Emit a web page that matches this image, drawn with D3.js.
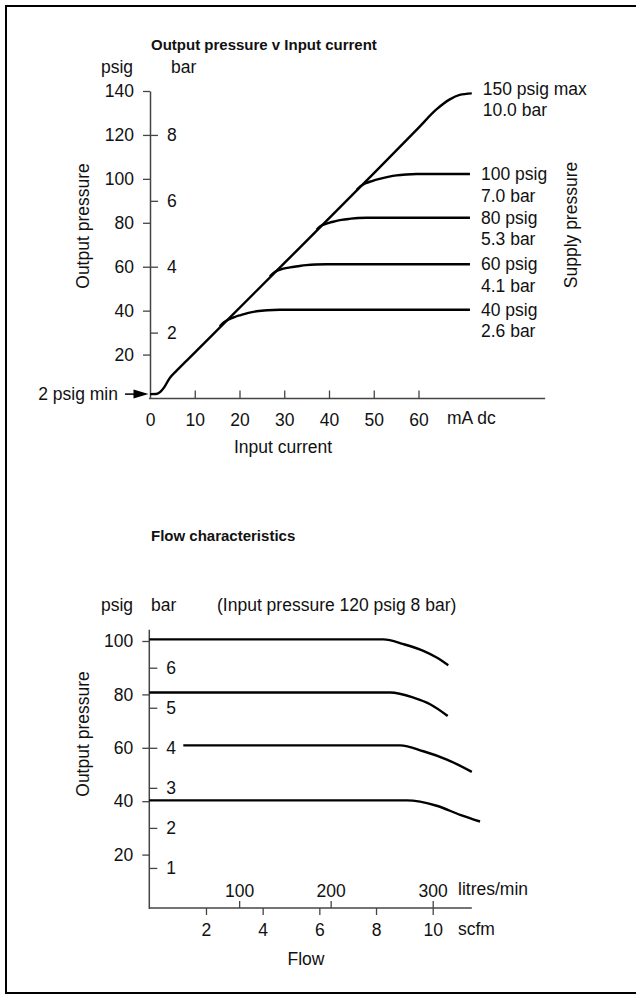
<!DOCTYPE html>
<html>
<head>
<meta charset="utf-8">
<script src="https://cdn.jsdelivr.net/npm/d3@7"></script>
<style>
  body { margin: 0; background: #fff; }
  svg text { font-family: "Liberation Sans", Arial, Helvetica, sans-serif; font-size: 17.5px; fill: #111; }
  svg text.title { font-size: 15px; font-weight: bold; }
</style>
</head>
<body>
<div id="chart"></div>
<script>
// ---- Output pressure v Input current ----
const psigTicksTop = [20, 40, 60, 80, 100, 120, 140]
const barTicksTop = [2, 4, 6, 8]
const mATicks = [0, 10, 20, 30, 40, 50, 60]
const psigPerBar = 15

// [mA, psig]
const mainCurve = [[0, 2], [1.4, 2.05], [2.3, 3.0], [3.2, 5.2], [4.4, 9.3], [6, 12.8], [10, 20.9], [30, 61.6], [50, 102.5], [60, 123.2], [64, 131.6], [67, 136.2], [69.2, 138.2], [71.9, 138.9]]
const supplyCurves = [
  [[46.2, 95.0], [47.0, 96.6], [48.2, 98.0], [49.6, 99.0], [51.3, 100.0], [53.2, 100.9], [55.1, 101.6], [57.3, 102.0], [59.6, 102.2], [71.5, 102.2]],
  [[37.25, 76.8], [38.0, 78.3], [39.0, 79.3], [40.0, 80.0], [41.2, 80.6], [42.8, 81.3], [44.6, 81.8], [46.5, 82.2], [48.4, 82.3], [71.5, 82.3]],
  [[26.8, 55.6], [27.6, 57.2], [28.6, 58.3], [29.8, 59.1], [31.3, 59.7], [33, 60.2], [34.9, 60.7], [37, 61.0], [39.4, 61.1], [71.5, 61.1]],
  [[15.6, 32.9], [16.4, 34.5], [17.6, 36.0], [18.9, 37.1], [20.3, 38.0], [22.0, 39.0], [23.8, 39.7], [26.2, 40.2], [29, 40.4], [71.5, 40.4]]
]
const supplyPsigLabels = ["150 psig max", "100 psig", "80 psig", "60 psig", "40 psig"]
const supplyBarLabels = ["10.0 bar", "7.0 bar", "5.3 bar", "4.1 bar", "2.6 bar"]

// ---- Flow characteristics ----
const psigTicksBot = [20, 40, 60, 80, 100]
const barTicksBot = [1, 2, 3, 4, 5, 6]
const scfmTicks = [2, 4, 6, 8, 10]
const litreTicks = [100, 200, 300]
const litreAtScfm = [3.17, 6.4, 10]   // where the litres/min ticks sit on the scfm scale

// [scfm, psig]
const flowCurves = [
  [[0, 100.6], [8.26, 100.6], [8.97, 98.8], [9.67, 96.3], [10.14, 93.8], [10.55, 90.9]],
  [[0, 80.7], [8.5, 80.7], [9.32, 78.8], [9.91, 76.3], [10.53, 71.9]],
  [[1.2, 60.9], [8.85, 60.9], [9.67, 58.7], [10.5, 55.6], [11.38, 51.0]],
  [[0, 40.3], [9.08, 40.3], [10.14, 38.3], [10.97, 34.9], [11.67, 32.4]]
]

const width = 636, height = 997
const axisColor = "#444"

const svg = d3.select("#chart").append("svg")
  .attr("width", width)
  .attr("height", height)

// frame
svg.append("rect")
  .attr("x", 6).attr("y", 6)
  .attr("width", 640).attr("height", 987)
  .attr("fill", "none")
  .attr("stroke", "#000")
  .attr("stroke-width", 2)

// ================= top chart =================
const xTop = d3.scaleLinear().domain([0, 60]).range([150, 418.5])
const yTop = d3.scaleLinear().domain([0, 140]).range([398.5, 91])
const barTop = d3.scaleLinear().domain([0, 140 / psigPerBar]).range([398.5, 91])

const topChart = svg.append("g")

topChart.append("text").attr("class", "title")
  .attr("x", 151).attr("y", 50)
  .text("Output pressure v Input current")

topChart.append("text").attr("x", 101).attr("y", 73).text("psig")
topChart.append("text").attr("x", 171).attr("y", 73).text("bar")

const yAxisTop = topChart.append("g")
  .attr("transform", `translate(${xTop(0)},0)`)
  .style("color", axisColor)
  .call(d3.axisLeft(yTop).tickValues(psigTicksTop).tickSize(7).tickSizeOuter(0).tickPadding(9))
yAxisTop.select(".domain").attr("stroke-width", 1.5)
yAxisTop.selectAll(".tick line").attr("stroke-width", 1.3)

const barAxisTop = topChart.append("g")
  .attr("transform", `translate(${xTop(0)},0)`)
  .style("color", axisColor)
  .call(d3.axisRight(barTop).tickValues(barTicksTop).tickFormat(d3.format("d")).tickSize(8).tickPadding(9))
barAxisTop.select(".domain").remove()
barAxisTop.selectAll(".tick line").attr("stroke-width", 1.3)

const xAxisTop = topChart.append("g")
  .attr("transform", `translate(0,${yTop(0)})`)
  .style("color", axisColor)
  .call(d3.axisBottom(xTop).tickValues(mATicks).tickSize(-8).tickPadding(15))
xAxisTop.select(".domain").remove()
xAxisTop.selectAll(".tick line").attr("stroke-width", 1.3)
xAxisTop.selectAll(".tick").filter(d => d === 0).select("line").remove()

topChart.append("line")
  .attr("x1", xTop(0) - 1).attr("x2", xTop(88.3))
  .attr("y1", yTop(0)).attr("y2", yTop(0))
  .attr("stroke", axisColor).attr("stroke-width", 1.5)

topChart.append("text").attr("x", 447).attr("y", 424).text("mA dc")
topChart.append("text").attr("x", 283).attr("y", 453).attr("text-anchor", "middle").text("Input current")

topChart.append("text")
  .attr("transform", "translate(89,226) rotate(-90)")
  .attr("text-anchor", "middle")
  .text("Output pressure")

topChart.append("text")
  .attr("transform", "translate(577,225) rotate(-90)")
  .attr("text-anchor", "middle")
  .text("Supply pressure")

const lineTop = d3.line()
  .x(d => xTop(d[0]))
  .y(d => yTop(d[1]))
  .curve(d3.curveMonotoneX)

topChart.selectAll("path.supply")
  .data(supplyCurves)
  .enter()
    .append("path")
    .attr("class", "supply")
    .attr("d", lineTop)
    .attr("fill", "none")
    .attr("stroke", "#000")
    .attr("stroke-width", 2.4)

topChart.append("path")
  .attr("d", lineTop(mainCurve))
  .attr("fill", "none")
  .attr("stroke", "#000")
  .attr("stroke-width", 2.4)

// supply labels at the end of each curve
const curveEnds = [mainCurve[mainCurve.length - 1]].concat(supplyCurves.map(c => c[c.length - 1]))
curveEnds.forEach((end, i) => {
  const y = yTop(end[1]) - (i === 0 ? 5 : 0)
  topChart.append("text")
    .attr("x", xTop(end[0]) + 11).attr("y", y).attr("dy", "0.35em")
    .text(supplyPsigLabels[i])
  topChart.append("text")
    .attr("x", xTop(end[0]) + 11).attr("y", y + 21.5).attr("dy", "0.35em")
    .text(supplyBarLabels[i])
})

// 2 psig min arrow
topChart.append("text")
  .attr("x", 118).attr("y", yTop(2)).attr("dy", "0.35em")
  .attr("text-anchor", "end")
  .text("2 psig min")
topChart.append("line")
  .attr("x1", 125).attr("x2", 138)
  .attr("y1", yTop(2)).attr("y2", yTop(2))
  .attr("stroke", "#000").attr("stroke-width", 1.5)
topChart.append("path")
  .attr("d", `M${xTop(0) - 1.5},${yTop(2)} l-15,-4.5 l0,9 z`)
  .attr("fill", "#000")

// ================= bottom chart =================
const xBot = d3.scaleLinear().domain([0, 10]).range([149.3, 432.7])
const yBot = d3.scaleLinear().domain([0, 100]).range([908, 641])
const barBot = d3.scaleLinear().domain([0, 100 / psigPerBar]).range([908, 641])
const litreX = d3.scaleLinear().domain([0].concat(litreTicks)).range([0].concat(litreAtScfm).map(xBot))

const botChart = svg.append("g")

botChart.append("text").attr("class", "title")
  .attr("x", 151).attr("y", 541)
  .text("Flow characteristics")

botChart.append("text").attr("x", 101).attr("y", 611).text("psig")
botChart.append("text").attr("x", 151).attr("y", 611).text("bar")
botChart.append("text").attr("x", 217).attr("y", 611).text("(Input pressure 120 psig 8 bar)")

const yAxisBot = botChart.append("g")
  .attr("transform", `translate(${xBot(0)},0)`)
  .style("color", axisColor)
  .call(d3.axisLeft(yBot).tickValues(psigTicksBot).tickSize(7).tickSizeOuter(0).tickPadding(9))
yAxisBot.select(".domain").remove()
yAxisBot.selectAll(".tick line").attr("stroke-width", 1.3)

botChart.append("line")
  .attr("x1", xBot(0)).attr("x2", xBot(0))
  .attr("y1", yBot(0) + 1).attr("y2", yBot(104.2))
  .attr("stroke", axisColor).attr("stroke-width", 1.5)

const barAxisBot = botChart.append("g")
  .attr("transform", `translate(${xBot(0)},0)`)
  .style("color", axisColor)
  .call(d3.axisRight(barBot).tickValues(barTicksBot).tickFormat(d3.format("d")).tickSize(8).tickPadding(9))
barAxisBot.select(".domain").remove()
barAxisBot.selectAll(".tick line").attr("stroke-width", 1.3)

const scfmAxis = botChart.append("g")
  .attr("transform", `translate(0,${yBot(0)})`)
  .style("color", axisColor)
  .call(d3.axisBottom(xBot).tickValues(scfmTicks).tickSize(7).tickPadding(9))
scfmAxis.select(".domain").remove()
scfmAxis.selectAll(".tick line").attr("stroke-width", 1.3)

const litreAxis = botChart.append("g")
  .attr("transform", `translate(0,${yBot(0)})`)
  .style("color", axisColor)
  .call(d3.axisTop(litreX).tickValues(litreTicks).tickSize(7).tickPadding(4))
litreAxis.select(".domain").remove()
litreAxis.selectAll(".tick line").attr("stroke-width", 1.3)

botChart.append("line")
  .attr("x1", xBot(0)).attr("x2", xBot(11.38))
  .attr("y1", yBot(0)).attr("y2", yBot(0))
  .attr("stroke", axisColor).attr("stroke-width", 1.5)

botChart.append("text").attr("x", 458).attr("y", 895).text("litres/min")
botChart.append("text").attr("x", 458).attr("y", 935).text("scfm")
botChart.append("text").attr("x", 306).attr("y", 965).attr("text-anchor", "middle").text("Flow")

botChart.append("text")
  .attr("transform", "translate(89,734) rotate(-90)")
  .attr("text-anchor", "middle")
  .text("Output pressure")

const lineBot = d3.line()
  .x(d => xBot(d[0]))
  .y(d => yBot(d[1]))
  .curve(d3.curveMonotoneX)

botChart.selectAll("path.flow")
  .data(flowCurves)
  .enter()
    .append("path")
    .attr("class", "flow")
    .attr("d", lineBot)
    .attr("fill", "none")
    .attr("stroke", "#000")
    .attr("stroke-width", 2.4)
</script>
</body>
</html>
